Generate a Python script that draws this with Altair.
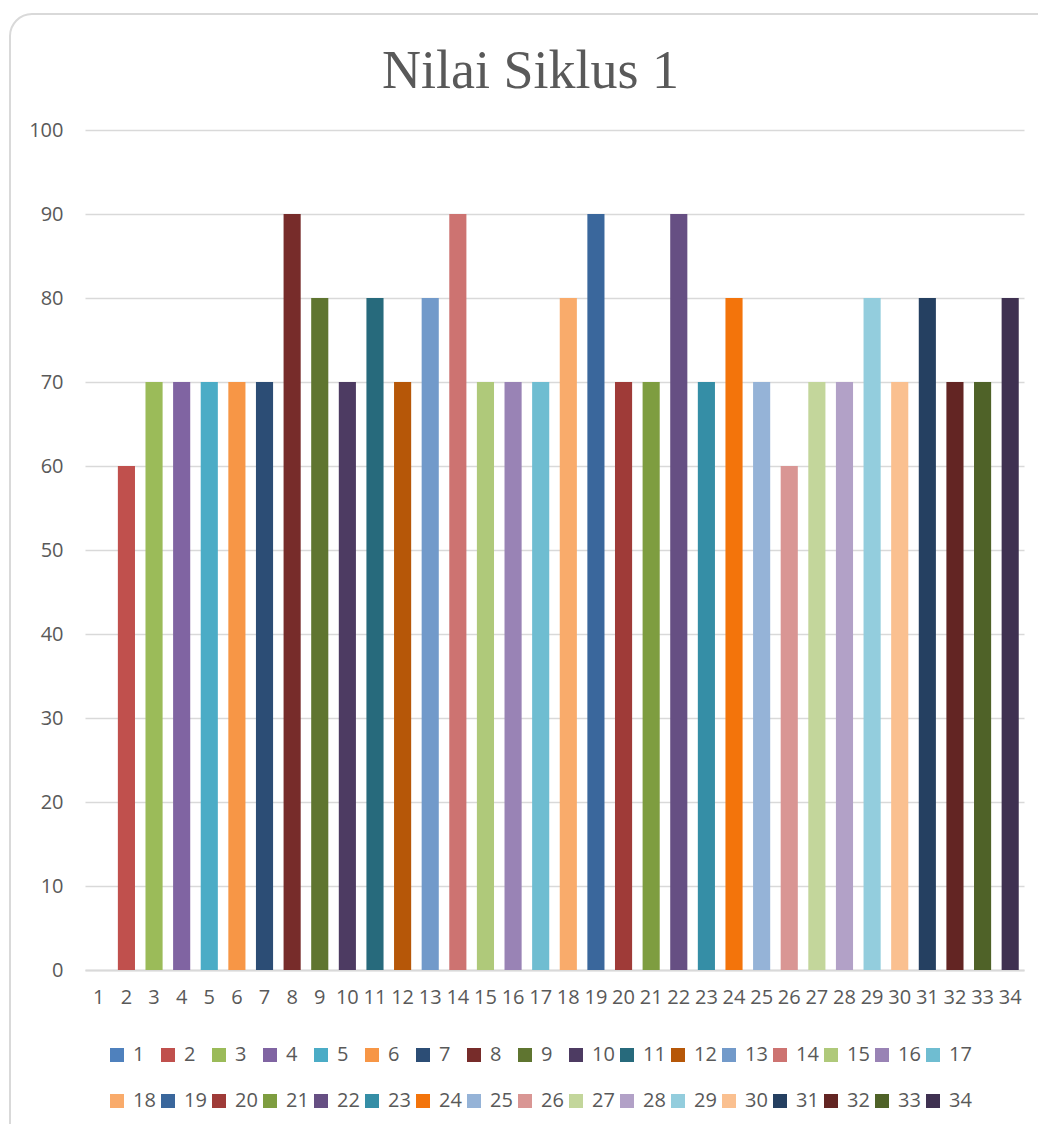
import altair as alt
import pandas as pd

categories = [str(i) for i in range(1, 35)]
values = [0, 60, 70, 70, 70, 70, 70, 90, 80, 70, 80, 70, 80, 90, 70, 70, 70,
          80, 90, 70, 70, 90, 70, 80, 70, 60, 70, 70, 80, 70, 80, 70, 70, 80]
colors = ["#4F81BD", "#C0504D", "#9BBB59", "#8064A2", "#4BACC6", "#F79646",
          "#2C4D75", "#772C2A", "#5F7530", "#4D3B62", "#276A7C", "#B65708",
          "#729ACA", "#CD7371", "#AFC97A", "#9983B5", "#6FBDD1", "#F9AB6B",
          "#3A679C", "#9F3B38", "#7E9D40", "#664F83", "#358EA6", "#F3740B",
          "#95B3D7", "#D99694", "#C3D69B", "#B2A1C7", "#93CDDD", "#FAC090",
          "#254061", "#632523", "#4F6228", "#3F3151"]

df = pd.DataFrame({"Siswa": categories, "Nilai": values})

W, H = 939, 840
FONT = "Open Sans"

bars = alt.Chart(df).mark_bar().encode(
    x=alt.X("Siswa:N", sort=categories,
            scale=alt.Scale(paddingInner=0.38, paddingOuter=0.19),
            axis=alt.Axis(title=None, labelAngle=0, ticks=False, labelPadding=17,
                          labelFontSize=20, labelColor="#595959", labelFont=FONT,
                          domainColor="#D9D9D9", domainWidth=2, grid=False,
                          labelOverlap=False)),
    y=alt.Y("Nilai:Q", scale=alt.Scale(domain=[0, 100]),
            axis=alt.Axis(title=None, values=list(range(0, 101, 10)), ticks=False,
                          domain=False, labelPadding=22, labelFontSize=20,
                          labelColor="#595959", labelFont=FONT,
                          gridColor="#D9D9D9", gridWidth=1.5)),
    color=alt.Color("Siswa:N", sort=categories,
                    scale=alt.Scale(domain=categories, range=colors),
                    legend=alt.Legend(title=None, orient="none", legendX=22,
                                      legendY=H + 75, direction="horizontal",
                                      columns=17, symbolType="square",
                                      symbolSize=196, symbolStrokeWidth=0,
                                      symbolLimit=100,
                                      labelFontSize=20, labelColor="#595959",
                                      labelFont=FONT, labelOffset=6,
                                      columnPadding=2, rowPadding=26,
                                      symbolOpacity=1)),
)

frame = alt.Chart(pd.DataFrame({"a": [0]})).mark_rect(
    fill=None, stroke="#D9D9D9", strokeWidth=2, cornerRadius=22
).encode(x=alt.value(-75), x2=alt.value(W + 60), y=alt.value(-116), y2=alt.value(H + 180))

chart = alt.layer(frame, bars).properties(
    width=W, height=H,
    title=alt.TitleParams("Nilai Siklus 1", font="Liberation Serif", fontSize=54,
                          fontWeight="normal", color="#595959", offset=-86, dx=-24),
    autosize=alt.AutoSizeParams(type="none"),
    padding={"left": 85, "top": 130, "right": 14, "bottom": 154},
).configure_view(stroke=None)

chart.save("out.html", embed_options={"renderer": "svg", "actions": False})
